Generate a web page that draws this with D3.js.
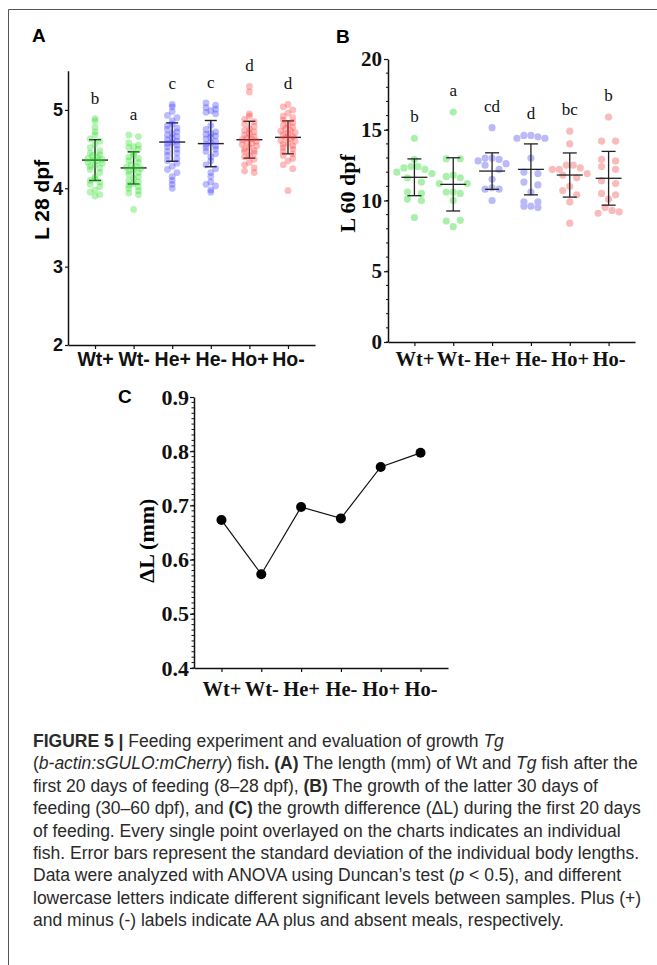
<!DOCTYPE html>
<html>
<head>
<meta charset="utf-8">
<script src="https://cdn.jsdelivr.net/npm/d3@7"></script>
<style>
  body { margin: 0; background: #fff; }
  svg { display: block; }
  .sansb { font-family: "Liberation Sans", Arial, sans-serif; font-weight: bold; }
  .serifb { font-family: "Liberation Serif", "Times New Roman", serif; font-weight: bold; }
  .serif { font-family: "Liberation Serif", "Times New Roman", serif; }
  .cap { font-family: "Liberation Sans", Arial, sans-serif; fill: #2a2a2a; }
</style>
</head>
<body>
<script>
// groups shared by all three panels
var groups = ["Wt+", "Wt-", "He+", "He-", "Ho+", "Ho-"];

// panel A : body length at 28 dpf (mm), one value per fish
var l28WtP = [4.89, 4.86, 4.78, 4.72, 4.68, 4.63, 4.60, 4.56, 4.52, 4.48, 4.45, 4.43, 4.42, 4.40, 4.38, 4.37, 4.36, 4.35,
              4.33, 4.32, 4.30, 4.28, 4.26, 4.24, 4.20, 4.15, 4.12, 4.10, 4.08, 4.05, 4.02, 3.98, 3.95, 3.92, 3.90];
var l28WtM = [4.68, 4.66, 4.58, 4.55, 4.53, 4.52, 4.50, 4.45, 4.42, 4.40, 4.38, 4.35, 4.33, 4.30, 4.28, 4.27, 4.25,
              4.24, 4.22, 4.20, 4.18, 4.15, 4.13, 4.10, 4.08, 4.06, 4.04, 4.02, 4.00, 3.97, 3.94, 3.92, 3.73];
var l28HeP = [5.07, 5.04, 4.98, 4.93, 4.90, 4.86, 4.82, 4.80, 4.77, 4.75, 4.72, 4.70, 4.68, 4.66, 4.64, 4.62, 4.60, 4.58,
              4.57, 4.55, 4.53, 4.50, 4.47, 4.45, 4.42, 4.38, 4.35, 4.32, 4.28, 4.24, 4.20, 4.15, 4.10, 4.05, 4.00];
var l28HeM = [5.09, 5.06, 5.03, 5.01, 4.99, 4.97, 4.95, 4.80, 4.75, 4.72, 4.70, 4.69, 4.67, 4.65, 4.63, 4.60, 4.58,
              4.56, 4.54, 4.52, 4.50, 4.47, 4.44, 4.40, 4.35, 4.30, 4.25, 4.20, 4.15, 4.08, 4.05, 4.03, 3.98, 3.95];
var l28HoP = [5.30, 5.23, 4.95, 4.92, 4.88, 4.85, 4.82, 4.79, 4.76, 4.74, 4.72, 4.70, 4.68, 4.66, 4.64, 4.63, 4.62, 4.60,
              4.58, 4.57, 4.56, 4.54, 4.52, 4.50, 4.48, 4.47, 4.45, 4.42, 4.40, 4.37, 4.33, 4.30, 4.26, 4.22, 4.20];
var l28HoM = [5.07, 5.04, 5.00, 4.96, 4.92, 4.90, 4.87, 4.84, 4.82, 4.80, 4.78, 4.76, 4.74, 4.73, 4.71, 4.70, 4.68, 4.66,
              4.65, 4.63, 4.61, 4.60, 4.58, 4.56, 4.54, 4.52, 4.50, 4.47, 4.44, 4.42, 4.38, 4.35, 4.30, 4.25, 3.97];
var mean28 = [4.36, 4.26, 4.59, 4.57, 4.62, 4.65];
var sd28 = [0.26, 0.205, 0.245, 0.295, 0.235, 0.21];
var letters28 = ["b", "a", "c", "c", "d", "d"];

// panel B : body length at 60 dpf (mm)
var l60WtP = [14.4, 12.9, 12.4, 12.4, 12.3, 12.2, 12.0, 11.9, 11.6, 11.3, 10.6, 10.5, 10.1, 10.0, 8.8];
var l60WtM = [16.25, 12.95, 12.95, 11.8, 11.7, 11.6, 11.2, 11.2, 10.6, 10.6, 10.5, 10.0, 8.55, 8.6, 8.15];
var l60HeP = [15.15, 13.0, 13.0, 12.9, 12.8, 12.6, 12.5, 12.2, 11.5, 10.9, 10.8, 10.8, 10.0];
var l60HeM = [14.6, 14.6, 14.5, 14.4, 14.4, 13.0, 12.0, 11.9, 11.3, 11.1, 10.6, 9.9, 9.9, 9.6, 9.6, 9.5];
var l60HoP = [14.9, 14.0, 12.5, 12.5, 12.2, 12.3, 12.2, 11.9, 11.8, 11.6, 11.0, 10.7, 10.4, 9.9, 8.4];
var l60HoM = [15.9, 14.2, 14.2, 12.9, 12.8, 12.4, 12.2, 11.4, 11.2, 10.5, 10.4, 10.1, 9.5, 9.3, 9.1, 9.2];
var mean60 = [11.64, 11.14, 12.08, 12.2, 11.8, 11.57];
var sd60 = [1.3, 1.88, 1.29, 1.8, 1.56, 1.9];
var letters60 = ["b", "a", "cd", "d", "bc", "b"];

// panel C : growth difference (mm)
var deltaL = [0.673, 0.573, 0.697, 0.676, 0.771, 0.797];

var ticks28 = [2, 3, 4, 5];
var ticks60 = [0, 5, 10, 15, 20];
var ticksDelta = [0.4, 0.5, 0.6, 0.7, 0.8, 0.9];

var W = 657, H = 965;
var svg = d3.select("body").append("svg").attr("width", W).attr("height", H);

// page frame (left and top rule)
svg.append("path").attr("d", "M8.5," + H + "V9.5H" + W)
  .attr("fill", "none").attr("stroke", "#555").attr("stroke-width", 1);

// places the points of one column GraphPad-style: rows of binH px, spread by step px
function spread(vals, y, cx, binH, step) {
  var rows = d3.group(vals, function(v) { return Math.round(y(v) / binH); });
  var out = [];
  rows.forEach(function(list) {
    var n = list.length;
    list.forEach(function(v, i) {
      var off;
      if (n % 2 === 1) {
        var k = Math.ceil(i / 2);
        off = (i % 2 === 1 ? -1 : 1) * k * step;
      } else {
        var k2 = Math.floor(i / 2) + 1;
        off = (i % 2 === 0 ? -1 : 1) * (k2 - 0.5) * step * (n === 2 ? 2 : 1);
      }
      out.push({ v: v, x: cx + off });
    });
  });
  return out;
}

function styleAxis(g, cls, size) {
  g.select(".domain").attr("stroke", "#111").attr("stroke-width", 1.5);
  g.selectAll(".tick line").attr("stroke", "#111").attr("stroke-width", 1.2);
  g.selectAll(".tick text").attr("class", cls).attr("fill", "#111")
    .style("font-size", size + "px").attr("font-family", null);
}

// ---------------- panel A ----------------
(function() {
  var cols = [l28WtP, l28WtM, l28HeP, l28HeM, l28HoP, l28HoM];
  var colors = ["#22dd22", "#22dd22", "#3535ff", "#3535ff", "#ff3535", "#ff3535"];
  var x = d3.scalePoint().domain(groups).range([68, 315]).padding(0.7);
  var y = d3.scaleLinear().domain([2, 5.5]).range([345, 70.75]);

  svg.append("text").attr("class", "sansb").attr("x", 32).attr("y", 42)
    .style("font-size", "19px").text("A");

  var gx = svg.append("g").attr("transform", "translate(0,345)")
    .call(d3.axisBottom(x).tickSizeInner(4).tickSizeOuter(0).tickPadding(3));
  styleAxis(gx, "sansb", 19.5);
  var gy = svg.append("g").attr("transform", "translate(68,0)")
    .call(d3.axisLeft(y).tickValues(ticks28).tickFormat(d3.format("d")).tickSizeInner(3).tickSizeOuter(0).tickPadding(2));
  styleAxis(gy, "sansb", 18);

  svg.append("text").attr("class", "sansb")
    .attr("transform", "translate(49," + (y(3.75) - 8) + ") rotate(-90)")
    .attr("text-anchor", "middle").style("font-size", "21px").text("L 28 dpf");

  groups.forEach(function(gname, i) {
    var cx = x(gname);
    var g = svg.append("g");
    var lo = y(mean28[i] - sd28[i]), hi = y(mean28[i] + sd28[i]), m = y(mean28[i]);
    g.append("line").attr("x1", cx).attr("x2", cx).attr("y1", lo).attr("y2", hi);
    g.append("line").attr("x1", cx - 6).attr("x2", cx + 6).attr("y1", lo).attr("y2", lo);
    g.append("line").attr("x1", cx - 6).attr("x2", cx + 6).attr("y1", hi).attr("y2", hi);
    g.append("line").attr("x1", cx - 13).attr("x2", cx + 13).attr("y1", m).attr("y2", m);
    g.selectAll("line").attr("stroke", "#222").attr("stroke-width", 1.4);

    svg.append("g").selectAll("circle").data(spread(cols[i], y, cx, 4.5, 4.8)).join("circle")
      .attr("cx", function(d) { return d.x; }).attr("cy", function(d) { return y(d.v); })
      .attr("r", 3.4).attr("fill", colors[i]).attr("fill-opacity", 0.33);

    svg.append("text").attr("class", "serif").attr("x", cx).attr("y", y(d3.max(cols[i])) - 15)
      .attr("text-anchor", "middle").style("font-size", "17px").attr("fill", "#111").text(letters28[i]);
  });
})();

// ---------------- panel B ----------------
(function() {
  var cols = [l60WtP, l60WtM, l60HeP, l60HeM, l60HoP, l60HoM];
  var colors = ["#aaf0aa", "#aaf0aa", "#babaf8", "#babaf8", "#f8bcbc", "#f8bcbc"];
  var x = d3.scalePoint().domain(groups).range([388, 635]).padding(0.68);
  var y = d3.scaleLinear().domain([0, 20]).range([342, 59]);

  svg.append("text").attr("class", "sansb").attr("x", 336).attr("y", 43)
    .style("font-size", "19px").text("B");

  var gx = svg.append("g").attr("transform", "translate(0,342)")
    .call(d3.axisBottom(x).tickSizeInner(4).tickSizeOuter(0).tickPadding(5));
  styleAxis(gx, "serifb", 20.5);
  // minor ticks
  svg.append("g").selectAll("line").data(d3.range(0, 20, 1)).join("line")
    .attr("x1", 386).attr("x2", 388).attr("y1", function(d) { return y(d); }).attr("y2", function(d) { return y(d); })
    .attr("stroke", "#111").attr("stroke-width", 1);
  var gy = svg.append("g").attr("transform", "translate(388,0)")
    .call(d3.axisLeft(y).tickValues(ticks60).tickSizeInner(4).tickSizeOuter(0).tickPadding(2));
  styleAxis(gy, "serifb", 21);

  svg.append("text").attr("class", "serifb")
    .attr("transform", "translate(355," + y(10.5) + ") rotate(-90)")
    .attr("text-anchor", "middle").style("font-size", "22px").text("L 60 dpf");

  groups.forEach(function(gname, i) {
    var cx = x(gname);
    svg.append("g").selectAll("circle").data(spread(cols[i], y, cx, 10, 7)).join("circle")
      .attr("cx", function(d) { return d.x; }).attr("cy", function(d) { return y(d.v); })
      .attr("r", 3.6).attr("fill", colors[i]);

    var g = svg.append("g");
    var lo = y(mean60[i] - sd60[i]), hi = y(mean60[i] + sd60[i]), m = y(mean60[i]);
    g.append("line").attr("x1", cx).attr("x2", cx).attr("y1", lo).attr("y2", hi);
    g.append("line").attr("x1", cx - 7).attr("x2", cx + 7).attr("y1", lo).attr("y2", lo);
    g.append("line").attr("x1", cx - 7).attr("x2", cx + 7).attr("y1", hi).attr("y2", hi);
    g.append("line").attr("x1", cx - 13).attr("x2", cx + 13).attr("y1", m).attr("y2", m);
    g.selectAll("line").attr("stroke", "#222").attr("stroke-width", 1.3);

    svg.append("text").attr("class", "serif").attr("x", cx).attr("y", y(d3.max(cols[i])) - 16)
      .attr("text-anchor", "middle").style("font-size", "17px").attr("fill", "#111").text(letters60[i]);
  });
})();

// ---------------- panel C ----------------
(function() {
  var x = d3.scalePoint().domain(groups).range([194, 448]).padding(0.69);
  var y = d3.scaleLinear().domain([0.4, 0.9]).range([668, 397]);

  svg.append("text").attr("class", "sansb").attr("x", 118).attr("y", 403)
    .style("font-size", "19px").text("C");

  var gx = svg.append("g").attr("transform", "translate(0,668)")
    .call(d3.axisBottom(x).tickSizeInner(4).tickSizeOuter(0).tickPadding(9));
  styleAxis(gx, "serifb", 20.5);
  svg.append("g").selectAll("line").data(d3.range(40, 90, 1)).join("line")
    .attr("x1", 191.5).attr("x2", 194).attr("y1", function(d) { return y(d / 100); }).attr("y2", function(d) { return y(d / 100); })
    .attr("stroke", "#111").attr("stroke-width", 1);
  var gy = svg.append("g").attr("transform", "translate(194,0)")
    .call(d3.axisLeft(y).tickValues(ticksDelta).tickFormat(d3.format(".1f")).tickSizeInner(4).tickSizeOuter(0).tickPadding(1));
  styleAxis(gy, "serifb", 22);

  svg.append("text").attr("class", "serifb")
    .attr("transform", "translate(154," + y(0.635) + ") rotate(-90)")
    .attr("text-anchor", "middle").style("font-size", "22px").text("ΔL (mm)");

  var line = d3.line().x(function(d, i) { return x(groups[i]); }).y(function(d) { return y(d); });
  svg.append("path").datum(deltaL).attr("d", line).attr("fill", "none").attr("stroke", "#111").attr("stroke-width", 1.2);
  svg.append("g").selectAll("circle").data(deltaL).join("circle")
    .attr("cx", function(d, i) { return x(groups[i]); }).attr("cy", function(d) { return y(d); })
    .attr("r", 5).attr("fill", "#000");
})();

// ---------------- caption ----------------
var caption = [
  [["FIGURE 5 |", "b"], [" Feeding experiment and evaluation of growth ", ""], ["Tg", "i"]],
  [["(", ""], ["b-actin:sGULO:mCherry", "i"], [") fish", ""], [". (A)", "b"], [" The length (mm) of Wt and ", ""], ["Tg", "i"], [" fish after the", ""]],
  [["first 20 days of feeding (8–28 dpf), ", ""], ["(B)", "b"], [" The growth of the latter 30 days of", ""]],
  [["feeding (30–60 dpf), and ", ""], ["(C)", "b"], [" the growth difference (ΔL) during the first 20 days", ""]],
  [["of feeding. Every single point overlayed on the charts indicates an individual", ""]],
  [["fish. Error bars represent the standard deviation of the individual body lengths.", ""]],
  [["Data were analyzed with ANOVA using Duncan’s test (", ""], ["p", "i"], [" < 0.5), and different", ""]],
  [["lowercase letters indicate different significant levels between samples. Plus (+)", ""]],
  [["and minus (-) labels indicate AA plus and absent meals, respectively.", ""]]
];
var capG = svg.append("g");
caption.forEach(function(segs, li) {
  var t = capG.append("text").attr("class", "cap").attr("x", 33).attr("y", 747 + li * 22.4)
    .style("font-size", "17.5px");
  segs.forEach(function(s) {
    t.append("tspan").text(s[0])
      .attr("font-weight", s[1] === "b" ? "bold" : null)
      .attr("font-style", s[1] === "i" ? "italic" : null);
  });
});
</script>
</body>
</html>
